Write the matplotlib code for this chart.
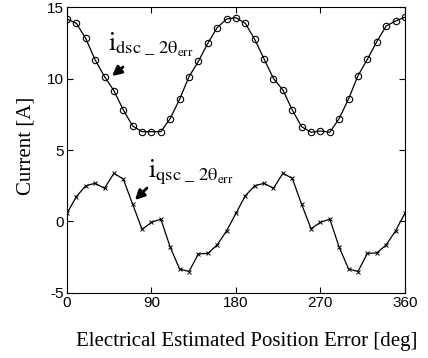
import numpy as np
import matplotlib
matplotlib.use('Agg')
import matplotlib.pyplot as plt

# estimated position error, 10 deg steps
theta = np.arange(0, 361, 10)

i_dsc = [14.16, 13.86, 12.8, 11.3, 10.13, 9.15, 7.8, 6.68, 6.28, 6.28,
         6.28, 7.2, 8.55, 10.13, 11.2, 12.46, 13.56, 14.16, 14.25, 13.86,
         12.74, 11.36, 10.0, 9.2, 7.8, 6.63, 6.24, 6.33, 6.24, 7.2,
         8.57, 10.2, 11.34, 12.57, 13.67, 14.02, 14.28]

i_qsc = [0.57, 1.74, 2.5, 2.67, 2.32, 3.37, 2.97, 1.2, -0.55, -0.06,
         0.17, -1.8, -3.32, -3.5, -2.27, -2.23, -1.64, -0.66, 0.57, 1.8,
         2.5, 2.67, 2.32, 3.37, 3.02, 1.2, -0.5, -0.06, 0.17, -1.8,
         -3.32, -3.5, -2.23, -2.2, -1.64, -0.66, 0.57]

xticks = [0, 90, 180, 270, 360]
yticks = [-5, 0, 5, 10, 15]

plt.rcParams['mathtext.fontset'] = 'stix'
plt.rcParams['axes.unicode_minus'] = False

fig = plt.figure(figsize=(4.28, 3.58), dpi=100)
ax = fig.add_axes([0.1565, 0.1816, 0.7895, 0.7988])

ax.plot(theta, i_dsc, color='black', lw=0.9, marker='o', ms=4.6,
        mfc='none', mec='black', mew=0.8)
ax.plot(theta, i_qsc, color='black', lw=0.9, marker='x', ms=3.2,
        mec='black', mew=0.7)

ax.set_xlim(0, 360)
ax.set_ylim(-5, 15)
ax.set_xticks(xticks)
ax.set_yticks(yticks)
ax.tick_params(direction='in', top=True, right=True, length=4, width=0.8,
               labelsize=11, pad=2)
for lab in ax.get_xticklabels() + ax.get_yticklabels():
    lab.set_family('Liberation Sans')
for sp in ax.spines.values():
    sp.set_linewidth(0.8)

ax.set_xlabel('Electrical Estimated Position Error [deg]',
              family='Liberation Serif', fontsize=15)
ax.set_ylabel('Current [A]', family='Liberation Serif', fontsize=15)
ax.xaxis.set_label_coords(0.533, -0.137)
ax.yaxis.set_label_coords(-0.092, 0.515)

lbl_d = r'$\mathrm{i}_{\mathrm{dsc}\ \_\ \mathrm{2θ}_{\mathrm{err}}}$'
lbl_q = r'$\mathrm{i}_{\mathrm{qsc}\ \_\ \mathrm{2θ}_{\mathrm{err}}}$'
ax.text(43.5, 11.9, lbl_d, fontsize=19, ha='left', va='baseline')
ax.text(86, 3.1, lbl_q, fontsize=19, ha='left', va='baseline')

arrow = dict(arrowstyle='-|>', color='black', lw=2.0, mutation_scale=14,
             shrinkA=0, shrinkB=0)
ax.annotate('', xy=(47.9, 10.17), xytext=(59.6, 10.8), arrowprops=arrow)
ax.annotate('', xy=(72.4, 1.5), xytext=(85.2, 2.34), arrowprops=arrow)

fig.savefig('out.png', dpi=100)
